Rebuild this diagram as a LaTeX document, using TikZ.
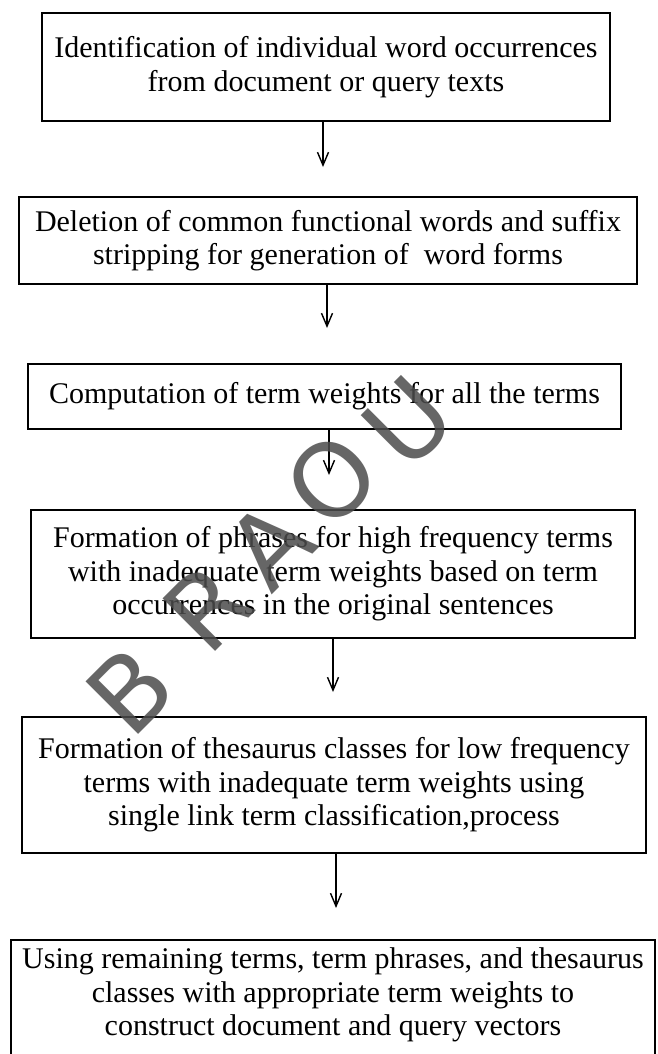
\documentclass[tikz,border=0pt]{standalone}
\usepackage{fontspec}
\setmainfont{Liberation Serif}
\newfontfamily\wmfont{DejaVu Sans}
\usetikzlibrary{arrows.meta}
\tikzset{
  box/.style={draw, line width=1.8pt, inner sep=0pt, align=center,
    font=\fontsize{30}{33.5}\selectfont},
  txt/.style={inner sep=0pt, align=center, font=\fontsize{30}{33.5}\selectfont},
  arr/.style={line width=1.6pt, -{Straight Barb[length=13pt, width=11pt, line width=1.4pt]}},
  wm/.style={font=\wmfont\fontsize{102}{102}\selectfont, text=black!70, opacity=0.85, rotate=45, inner sep=0pt}
}
\begin{document}
\begin{tikzpicture}[x=1pt, y=-1pt]
\useasboundingbox[fill=white] (0,0) rectangle (657,1054);
\clip (0,0) rectangle (657,1054);

\node[box, minimum width=568pt, minimum height=108pt] (B1) at (326,67)
  {Identification of individual word occurrences\\from document or query texts};
\node[box, minimum width=618pt, minimum height=87pt] (B2) at (328,240.5)
  {Deletion of common functional words and suffix\\stripping for generation of\ \ word forms};
\node[box, minimum width=593pt, minimum height=65pt] (B3) at (324.5,396.5)
  {Computation of term weights for all the terms};
\node[box, minimum width=604pt, minimum height=128pt] (B4) at (333,574)
  {Formation of phrases for high frequency terms\\with inadequate term weights based on term\\occurrences in the original sentences};
\node[box, minimum width=624pt, minimum height=136pt] (B5) at (334,785)
  {Formation of thesaurus classes for low frequency\\terms with inadequate term weights using\\single link term classification,process};
\node[box, minimum width=644pt, minimum height=160pt, anchor=north] (B6) at (333,939) {};
\node[txt] (T6) at (333,995)
  {Using remaining terms, term phrases, and thesaurus\\classes with appropriate term weights to\\construct document and query vectors};

\coordinate (A1) at (323,167);
\coordinate (A2) at (327,328);
\coordinate (A3) at (329,475);
\coordinate (A4) at (333,692);
\coordinate (A5) at (336,908);
\draw[arr] (B1.south -| A1) -- (A1);
\draw[arr] (B2.south -| A2) -- (A2);
\draw[arr] (B3.south -| A3) -- (A3);
\draw[arr] (B4.south -| A4) -- (A4);
\draw[arr] (B5.south -| A5) -- (A5);

\node[wm] (wB) at (130,690) {B};
\node[wm] (wR) at (207,607) {R};
\node[wm] (wA) at (270,545) {A};
\node[wm] (wO) at (332,480) {O};
\node[wm] (wU) at (408,422) {U};
\end{tikzpicture}
\end{document}
